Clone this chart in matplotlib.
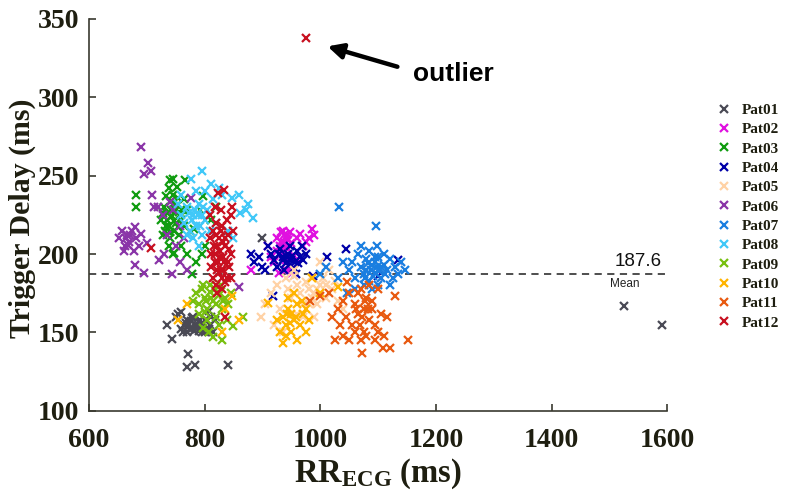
import matplotlib
matplotlib.use("Agg")
import matplotlib.pyplot as plt

plt.rcParams["mathtext.fontset"] = "custom"
plt.rcParams["mathtext.bf"] = "Liberation Serif:bold"
plt.rcParams["mathtext.rm"] = "Liberation Serif:bold"
plt.rcParams["mathtext.it"] = "Liberation Serif:bold"

patients = ["Pat01", "Pat02", "Pat03", "Pat04", "Pat05", "Pat06",
            "Pat07", "Pat08", "Pat09", "Pat10", "Pat11", "Pat12"]
colors = ["#4a4a55", "#e010e0", "#109c10", "#0000a8", "#ffd2a6", "#8a35a8",
          "#1a7ee0", "#40c8f8", "#78c010", "#ffb400", "#e85a10", "#c81020"]

pat01_x = [736, 743, 772, 769, 783, 841, 755, 760, 765, 770, 775, 780, 785, 790, 795, 800, 805, 810, 815,
           760, 770, 780, 790, 800, 812, 768, 778, 788, 798, 808, 900, 1525, 1590, 750, 762, 818, 807,
           772, 782, 792, 776, 786, 796]
pat01_y = [155, 146, 136, 128, 129, 129, 162, 163, 155, 158, 152, 160, 155, 151, 153, 158, 152, 155, 150,
           152, 150, 153, 157, 150, 160, 156, 159, 154, 156, 152, 210, 167, 155, 160, 150, 158, 164,
           155, 151, 158, 157, 153, 150]

pat02_x = [881, 910, 915, 920, 925, 928, 930, 932, 935, 938, 940, 942, 945, 948, 950, 955, 960, 965, 970,
           975, 980, 986, 990, 935, 940, 952, 960, 925, 945, 938, 936, 942, 939, 933, 944, 930, 948]
pat02_y = [190, 205, 198, 195, 210, 188, 205, 214, 200, 208, 196, 212, 203, 190, 207, 199, 210, 213, 205,
           208, 210, 216, 212, 215, 190, 188, 197, 202, 209, 202, 205, 210, 213, 208, 198, 200, 214]

pat03_x = [681, 681, 741, 745, 767, 738, 752, 733, 745, 755, 728, 735, 742, 750, 758, 732, 740, 748, 756, 764,
           738, 746, 760, 770, 779, 786, 795, 800, 797, 793, 781, 770, 775, 765, 820, 812, 725, 738, 750, 747,
           730, 736, 744, 752, 760, 734, 742, 748, 756, 740, 728, 762, 754, 746]
pat03_y = [238, 230, 247, 248, 247, 242, 243, 237, 232, 236, 226, 222, 228, 220, 225, 215, 210, 215, 212, 218,
           205, 200, 205, 200, 187, 195, 200, 205, 237, 228, 216, 228, 215, 235, 230, 222, 222, 218, 228, 201,
           230, 226, 224, 231, 222, 218, 234, 221, 227, 214, 212, 228, 217, 238]

pat04_x = [881, 885, 895, 905, 910, 915, 920, 925, 930, 935, 940, 945, 950, 955, 960, 965, 970, 975, 958, 948,
           938, 928, 919, 988, 1012, 1045, 1134, 1100, 900, 968, 942, 952, 946, 956, 962, 935]
pat04_y = [200, 195, 198, 190, 205, 200, 196, 192, 203, 198, 194, 200, 196, 191, 202, 198, 196, 200, 187, 205,
           190, 200, 173, 186, 198, 203, 196, 186, 192, 205, 198, 199, 193, 195, 194, 196]

pat05_x = [897, 905, 915, 925, 930, 940, 945, 950, 955, 960, 965, 970, 975, 980, 985, 990, 995, 1000, 1010,
           1020, 1030, 1040, 960, 970, 945, 935, 990, 1005, 1015, 1000, 955, 920, 985, 1025, 980, 995, 1010]
pat05_y = [160, 168, 175, 180, 165, 185, 178, 172, 186, 180, 175, 168, 182, 178, 172, 175, 168, 180, 172,
           178, 170, 165, 162, 160, 165, 150, 160, 185, 190, 195, 190, 155, 185, 183, 168, 178, 180]

pat06_x = [691, 702, 695, 707, 710, 712, 652, 658, 662, 666, 670, 674, 678, 682, 686, 690, 660, 680, 680, 695,
           722, 758, 859, 746, 776, 758, 740, 728, 735, 750, 765, 720, 700, 730, 770, 744, 664, 672, 668]
pat06_y = [268, 258, 251, 253, 238, 230, 210, 215, 205, 212, 208, 215, 202, 210, 205, 213, 202, 217, 193, 188,
           196, 195, 179, 228, 236, 218, 233, 225, 212, 205, 210, 230, 207, 200, 190, 187, 210, 212, 206]

pat07_x = [1033, 1097, 1098, 1046, 1050, 1055, 1060, 1065, 1070, 1075, 1080, 1085, 1090, 1095, 1100, 1105,
           1110, 1115, 1120, 1125, 1130, 1140, 1146, 1060, 1075, 1090, 1100, 1110, 1085, 1070, 1120, 1040,
           1095, 1080, 1105, 1030, 1135, 1010, 1000, 1088, 1098, 1092, 1082, 1102, 1112, 1078, 1094]
pat07_y = [230, 218, 205, 175, 190, 195, 185, 200, 192, 187, 197, 183, 193, 188, 198, 185,
           193, 190, 197, 185, 192, 195, 190, 178, 180, 178, 180, 200, 202, 205, 180, 195,
           195, 190, 192, 185, 187, 192, 187, 190, 192, 186, 194, 189, 187, 185, 198]

pat08_x = [796, 777, 859, 871, 883, 876, 848, 862, 755, 760, 765, 770, 775, 780, 785, 790, 795, 800, 805, 810,
           815, 820, 825, 830, 780, 790, 770, 800, 812, 785, 840, 850, 760, 795, 778, 784, 792, 788, 774, 798]
pat08_y = [253, 248, 238, 228, 223, 232, 236, 226, 232, 225, 220, 230, 215, 225, 218, 232, 212, 222, 228, 215,
           235, 220, 242, 238, 210, 205, 212, 240, 245, 240, 215, 210, 238, 225, 222, 228, 218, 225, 226, 230]

pat09_x = [780, 785, 790, 795, 800, 805, 810, 815, 820, 825, 830, 835, 840, 845, 810, 800, 820, 797, 815, 831,
           866, 849, 808, 825, 790, 838, 805, 818, 828, 798, 812, 822, 802, 832]
pat09_y = [170, 175, 168, 178, 172, 165, 176, 170, 168, 174, 165, 172, 168, 175, 180, 163, 160, 153, 147, 145,
           160, 154, 150, 155, 162, 158, 158, 178, 180, 180, 172, 175, 170, 170]

pat10_x = [770, 755, 848, 836, 859, 831, 910, 936, 930, 935, 940, 945, 950, 955, 960, 965, 970, 975, 980, 945,
           955, 960, 950, 940, 968, 975, 985, 1030, 1000, 925, 948, 958, 942]
pat10_y = [168, 158, 173, 165, 158, 150, 169, 143, 150, 160, 155, 165, 150, 158, 168, 155, 162, 150, 158, 172,
           175, 145, 162, 148, 170, 165, 185, 179, 175, 158, 156, 160, 162]

pat11_x = [1046, 1100, 1129, 1152, 1108, 1120, 1072, 1026, 983, 1000, 1030, 1040, 1050, 1060, 1070, 1080,
           1090, 1045, 1055, 1065, 1075, 1085, 1095, 1105, 1115, 1060, 1070, 1040, 1050, 1080, 1100, 1090,
           1020, 1035, 1065, 1075, 1110, 1095, 1085, 1015, 1062, 1072, 1082, 1068, 1078]
pat11_y = [182, 178, 173, 145, 140, 140, 137, 145, 170, 173, 165, 170, 175, 168, 178, 172,
           165, 160, 155, 162, 150, 158, 155, 162, 160, 150, 145, 148, 145, 148, 150, 170,
           160, 155, 175, 165, 148, 145, 180, 175, 165, 160, 165, 155, 170]

pat12_x = [975, 707, 824, 833, 810, 815, 820, 825, 830, 835, 840, 845, 812, 818, 822, 828, 832, 838, 842, 815,
           820, 825, 830, 835, 840, 845, 810, 850, 836, 828, 818, 838, 812, 845, 822, 832, 842, 816, 826, 848,
           820, 826, 832, 824, 830, 818, 836, 828, 822, 834]
pat12_y = [338, 204, 239, 241, 225, 215, 220, 210, 218, 205, 212, 225, 200, 195, 205, 190, 198, 185, 192, 185,
           180, 188, 178, 182, 195, 200, 210, 215, 160, 228, 230, 222, 192, 185, 175, 208, 203, 205, 198, 230,
           212, 202, 190, 195, 185, 200, 210, 215, 190, 195]

xs = [pat01_x, pat02_x, pat03_x, pat04_x, pat05_x, pat06_x, pat07_x, pat08_x, pat09_x, pat10_x, pat11_x, pat12_x]
ys = [pat01_y, pat02_y, pat03_y, pat04_y, pat05_y, pat06_y, pat07_y, pat08_y, pat09_y, pat10_y, pat11_y, pat12_y]

mean_value = 187.6
x_ticks = [600, 800, 1000, 1200, 1400, 1600]
y_ticks = [100, 150, 200, 250, 300, 350]

text_color = "#1e1e10"
serif = ["Liberation Serif", "DejaVu Serif"]
sans = ["Liberation Sans", "DejaVu Sans"]

fig = plt.figure(figsize=(7.86, 4.98), dpi=100)
ax = fig.add_axes([0.113, 0.175, 0.736, 0.787])

for name, c, x, y in zip(patients, colors, xs, ys):
    ax.plot(x, y, linestyle="none", marker="x", markersize=6, markeredgewidth=1.6,
            color=c, label=name)

ax.axhline(mean_value, color="#404040", linestyle=(0, (4, 3)), linewidth=1.3, zorder=0)
ax.text(1590, mean_value + 2, f"{mean_value}", ha="right", va="bottom", fontsize=13.5,
        family=sans, color="#111111")
ax.text(1527, 181, "Mean", ha="center", va="center", fontsize=8.5,
        family=sans, color="#222222")

ax.annotate("", xy=(1008, 333), xytext=(1138, 319),
            arrowprops=dict(arrowstyle="-|>,head_length=0.9,head_width=0.45", color="black", lw=3.2))
ax.text(1160, 315, "outlier", ha="left", va="center", fontsize=19, fontweight="bold",
        family=sans, color="black")

ax.set_xlim(600, 1600)
ax.set_ylim(100, 350)
ax.set_xticks(x_ticks)
ax.set_yticks(y_ticks)
for s in ["top", "right"]:
    ax.spines[s].set_visible(False)
for s in ["left", "bottom"]:
    ax.spines[s].set_color("#3a3a30")
    ax.spines[s].set_linewidth(1.2)
ax.tick_params(direction="in", length=5, width=1.2, color="#3a3a30")
ax.tick_params(axis="x", pad=12)
ax.tick_params(axis="y", pad=7)
for lab in ax.get_xticklabels() + ax.get_yticklabels():
    lab.set_family(serif)
    lab.set_fontweight("bold")
    lab.set_fontsize(20)
    lab.set_color(text_color)

fig.text(0.028, 0.562, "Trigger Delay (ms)", rotation=90, ha="center", va="center",
         family=serif, fontweight="bold", fontsize=21.5, color=text_color)
fig.text(377.5 / 786, 0.032, r"RR$_{\mathbf{ECG}}$ (ms)", ha="center", va="baseline",
         family=serif, fontweight="bold", fontsize=23.5, color=text_color)

leg = ax.legend(loc="upper left", bbox_to_anchor=(0.902, 0.805), bbox_transform=fig.transFigure,
                frameon=False, prop={"family": serif, "weight": "bold", "size": 11},
                labelspacing=0.37, handlelength=1.2, handletextpad=0.55, borderaxespad=0)
for t in leg.get_texts():
    t.set_color(text_color)

fig.savefig("out.png", dpi=100)
